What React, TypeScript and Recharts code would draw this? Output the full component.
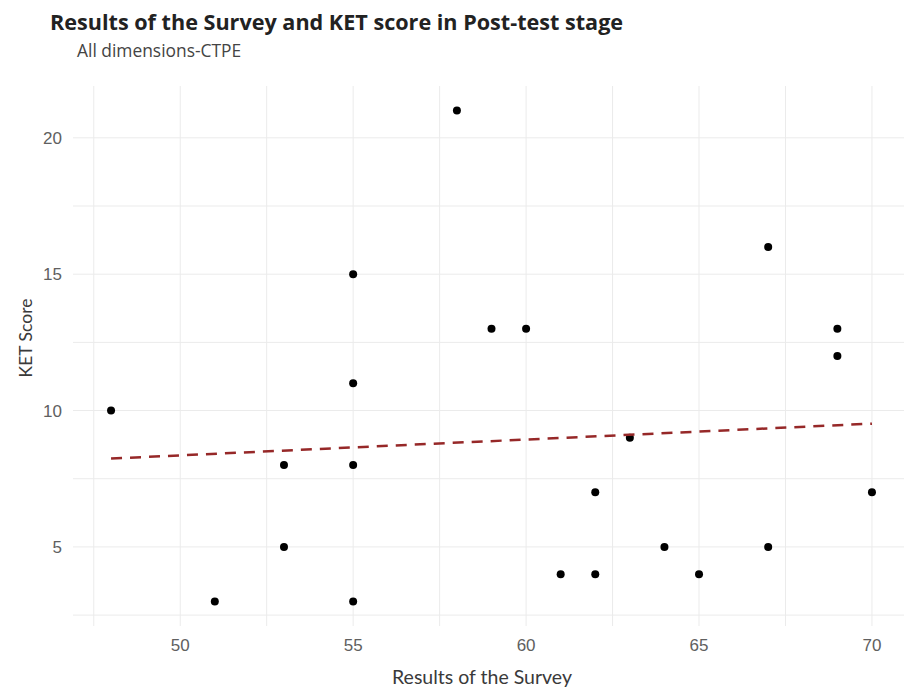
import React from 'react';
import { ScatterChart, Scatter, XAxis, YAxis, CartesianGrid } from 'recharts';

const surveyScores = [48, 51, 53, 53, 55, 55, 55, 55, 58, 59, 60, 61, 62, 62, 63, 64, 65, 67, 67, 69, 69, 70];
const ketScores = [10, 3, 8, 5, 15, 11, 8, 3, 21, 13, 13, 4, 7, 4, 9, 5, 4, 16, 5, 13, 12, 7];
const trendX = [48, 70];
const trendY = [8.24, 9.52];
const xTicks = [47.5, 50, 52.5, 55, 57.5, 60, 62.5, 65, 67.5, 70];
const yTicks = [2.5, 5, 7.5, 10, 12.5, 15, 17.5, 20];
const xDomain = [46.9, 71.1];
const yDomain = [2.1, 21.9];

const points = surveyScores.map((x, i) => ({ x, y: ketScores[i] }));
const trend = trendX.map((x, i) => ({ x, y: trendY[i] }));

const fmt = (v: number) => (v % 5 === 0 ? String(v) : '');

const Dot = (props: any) => <circle cx={props.cx} cy={props.cy} r={4} fill="#000" />;
const NoShape = () => null;

const vGen = (p: any) =>
  xTicks.map((t) => p.offset.left + ((t - xDomain[0]) / (xDomain[1] - xDomain[0])) * p.offset.width);
const hGen = (p: any) =>
  yTicks.map((t) => p.offset.top + (1 - (t - yDomain[0]) / (yDomain[1] - yDomain[0])) * p.offset.height);

export default function App() {
  return (
    <div style={{ position: 'absolute', left: 0, top: 0, width: 904, height: 691, overflow: 'hidden', background: '#fff' }}>
      <div style={{ position: 'absolute', left: 50, top: 8, fontFamily: '"Open Sans", sans-serif', fontWeight: 700, fontSize: 21.6, lineHeight: '28px', color: '#222', whiteSpace: 'nowrap' }}>
        Results of the Survey and KET score in Post-test stage
      </div>
      <div style={{ position: 'absolute', left: 77, top: 38, fontFamily: '"Open Sans", sans-serif', fontSize: 17.4, lineHeight: '24px', color: '#444', whiteSpace: 'nowrap' }}>
        All dimensions-CTPE
      </div>
      <div style={{ position: 'absolute', left: 0, top: 0 }}>
        <ScatterChart width={912} height={691} margin={{ top: 86, right: 2, bottom: 0, left: 0 }}>
          <CartesianGrid stroke="#ebebeb" strokeWidth={1} verticalCoordinatesGenerator={vGen} horizontalCoordinatesGenerator={hGen} />
          <XAxis
            type="number"
            dataKey="x"
            domain={xDomain}
            ticks={xTicks}
            interval={0}
            tickFormatter={fmt}
            axisLine={false}
            tickLine={false}
            height={65}
            tickMargin={7}
            tick={{ fill: '#606060', fontSize: 17, fontFamily: '"Liberation Sans", Arial, sans-serif' }}
            allowDataOverflow
          />
          <YAxis
            type="number"
            dataKey="y"
            domain={yDomain}
            ticks={yTicks}
            interval={0}
            tickFormatter={fmt}
            axisLine={false}
            tickLine={false}
            width={73}
            tickMargin={5}
            tick={{ fill: '#606060', fontSize: 17, fontFamily: '"Liberation Sans", Arial, sans-serif' }}
            allowDataOverflow
          />
          <Scatter data={points} shape={Dot} isAnimationActive={false} />
          <Scatter
            data={trend}
            shape={NoShape}
            line={{ stroke: '#962828', strokeWidth: 2.5, strokeDasharray: '11 8' }}
            isAnimationActive={false}
          />
        </ScatterChart>
      </div>
      <div style={{ position: 'absolute', left: 482, top: 677, width: 0, height: 0 }}>
        <div style={{ position: 'absolute', transform: 'translate(-50%, -50%)', fontFamily: 'Lato, sans-serif', fontSize: 19.5, color: '#3a3a3a', whiteSpace: 'nowrap', lineHeight: '24px' }}>
          Results of the Survey
        </div>
      </div>
      <div style={{ position: 'absolute', left: 26, top: 338, width: 0, height: 0 }}>
        <div style={{ position: 'absolute', transform: 'translate(-50%, -50%) rotate(-90deg)', fontFamily: 'Lato, sans-serif', fontSize: 17.5, color: '#3a3a3a', whiteSpace: 'nowrap', lineHeight: '20px' }}>
          KET Score
        </div>
      </div>
    </div>
  );
}
